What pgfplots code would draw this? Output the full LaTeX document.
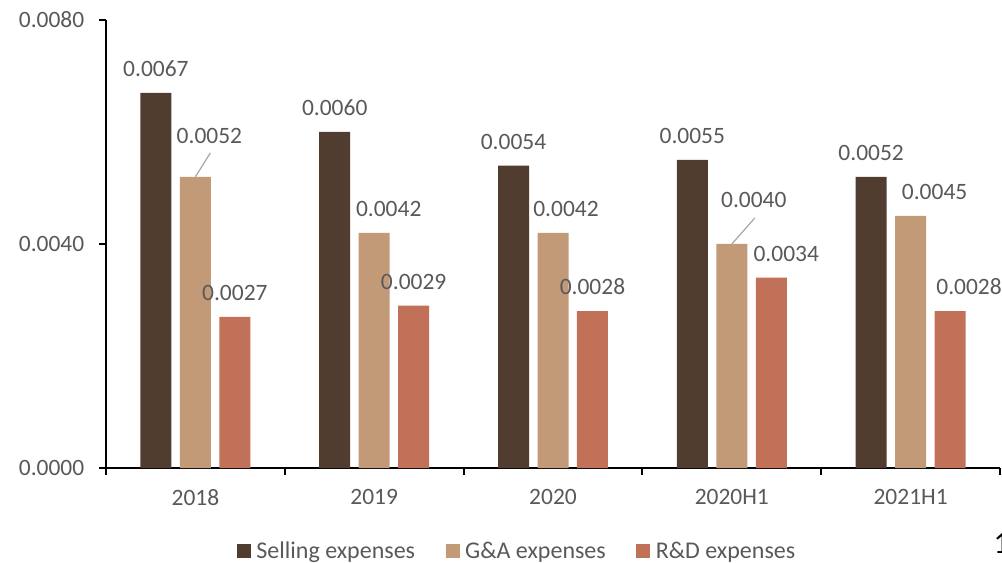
\documentclass[border=0pt]{standalone}
\usepackage{pgfplots}
\usepackage{pgfplotstable}
\pgfplotsset{compat=1.18}
\usepackage{fontspec}
\setmainfont{Carlito}

\definecolor{sellc}{HTML}{503D30}
\definecolor{gac}{HTML}{C29A78}
\definecolor{rdc}{HTML}{C07157}
\definecolor{txt}{HTML}{595959}
\newcommand\lbl{\fontsize{17.6}{21}\selectfont}

% x = category index, y = ratio, dx/dy = label offsets in pt (bar shift included)
\pgfplotstableread{
x y dx dy
0 0.0067 -29.6 12.4
1 0.0060 -29.6 12.4
2 0.0054 -29.6 12.4
3 0.0055 -29.6 12.4
4 0.0052 -29.6 12.4
}\selling
\pgfplotstableread{
x y dx dy
0 0.0052 10.5 25.1
1 0.0042 10.9 12.4
2 0.0042 9.75 12.4
3 0.0040 16.5 27.4
4 0.0045 18 12.4
}\gaexp
\pgfplotstableread{
x y dx dy
0 0.0027 29.6 12.4
1 0.0029 29.6 12.4
2 0.0028 29.6 12.4
3 0.0034 40.85 12.4
4 0.0028 43.85 12.4
}\rdexp

\begin{document}
\begin{tikzpicture}
\path[use as bounding box] (-79.5pt,-71.25pt) rectangle (672pt,351pt);
\begin{axis}[
  at={(0pt,0pt)}, anchor=south west,
  width=670.5pt, height=336pt, scale only axis,
  xmin=-0.5, xmax=4.5, ymin=0, ymax=0.008,
  clip=false,
  axis x line*=bottom, axis y line*=left,
  axis line style={-, line width=1.5pt, black},
  xtick={-0.5,0.5,1.5,2.5,3.5,4.5},
  xticklabels={2018,2019,2020,2020H1,2021H1},
  x tick label as interval,
  ytick={0,0.004,0.008},
  scaled y ticks=false,
  yticklabel={\pgfmathprintnumber[fixed,fixed zerofill,precision=4]{\tick}},
  /pgf/number format/assume math mode=true,
  tick align=outside,
  major tick length=5.25pt,
  tick style={black, line width=1.5pt},
  tick label style={font=\lbl, text=txt},
  yticklabel style={xshift=-7.5pt},
  xticklabel style={yshift=-7.5pt},
  legend style={at={(0.5,0)}, anchor=center, xshift=-26.6pt, yshift=-62.6pt,
    draw=none, fill=none, font=\fontsize{18}{21}\selectfont, text=txt,
    nodes={inner xsep=2pt},
    /tikz/every even column/.append style={column sep=21pt}},
  legend columns=3,
  legend image code/.code={\fill[#1] (0pt,-5.25pt) rectangle (10.5pt,5.25pt); \path (12.5pt,0pt);},
  nodes near coords={\pgfmathprintnumber[fixed,fixed zerofill,precision=4]{\pgfplotspointmeta}},
  visualization depends on={\thisrow{dx} \as \dx},
  visualization depends on={\thisrow{dy} \as \dy},
  nodes near coords style={font=\lbl, text=txt, anchor=base, xshift=\dx pt, yshift=\dy pt},
]
\addplot[ybar, bar width=23.25pt, bar shift=-29.6pt, fill=sellc, draw=none] table[x=x,y=y] {\selling};
\addlegendentry{Selling expenses}
\addplot[ybar, bar width=23.25pt, bar shift=0pt, fill=gac, draw=none] table[x=x,y=y] {\gaexp};
\addlegendentry{G\&A expenses}
\addplot[ybar, bar width=23.25pt, bar shift=29.6pt, fill=rdc, draw=none] table[x=x,y=y] {\rdexp};
\addlegendentry{R\&D expenses}
% leader lines for the shifted labels
\draw[black!35, line width=0.9pt] (axis cs:0,0.0052) -- ++(11.25pt,18pt);
\draw[black!35, line width=0.9pt] (axis cs:3,0.0040) -- ++(17.25pt,19.5pt);
\end{axis}
\node[anchor=base west, inner sep=0pt, font=\fontsize{23.5}{28}\selectfont] at (665.5pt,-63.75pt) {1};
\end{tikzpicture}
\end{document}
